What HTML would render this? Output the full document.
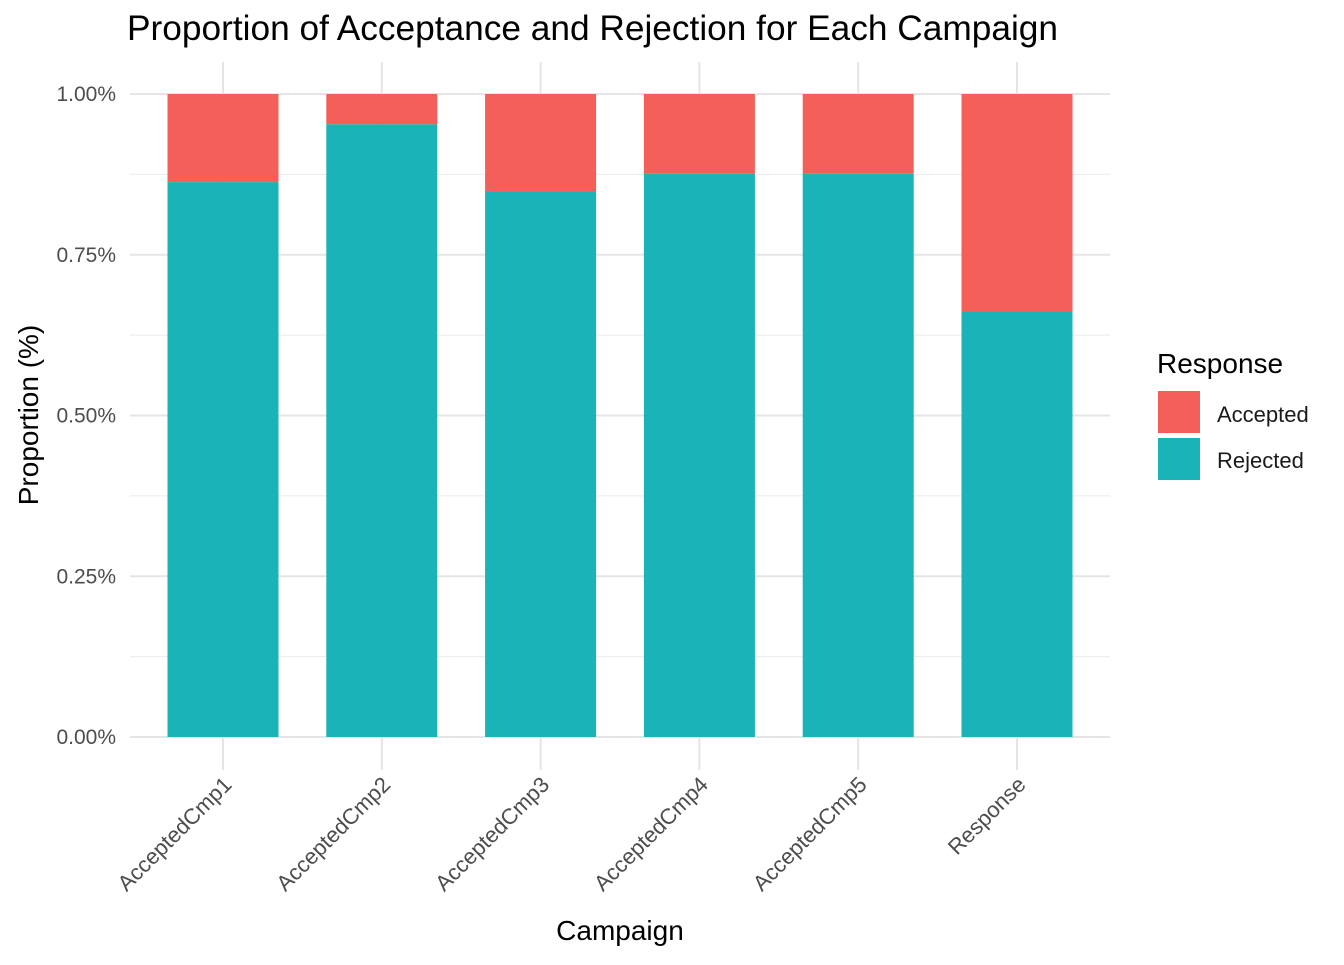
<!DOCTYPE html>
<html><head><meta charset="utf-8"><style>
body{margin:0;background:#fff;}
svg text{font-family:"Liberation Sans",Arial,sans-serif;}
</style></head><body>
<svg id="chart" width="1344" height="960" xmlns="http://www.w3.org/2000/svg">
<rect width="1344" height="960" fill="#fff"/>
<text x="127" y="40" font-size="35" fill="#000" textLength="931" lengthAdjust="spacingAndGlyphs">Proportion of Acceptance and Rejection for Each Campaign</text>
<g id="grid"></g>
<g id="bars"></g>
<g id="xlabels"></g>
<g id="ylabels"></g>
<text x="620" y="940" font-size="28" text-anchor="middle" fill="#000">Campaign</text>
<text transform="translate(38,415) rotate(-90)" font-size="28" text-anchor="middle" fill="#000">Proportion (%)</text>
<g>
<text x="1157" y="373" font-size="28" fill="#000">Response</text>
<rect x="1158" y="391" width="42" height="42" fill="#F45F5A"/>
<text x="1217" y="422" font-size="22" fill="#1a1a1a">Accepted</text>
<rect x="1158" y="438" width="42" height="42" fill="#19B3B8"/>
<text x="1217" y="468" font-size="22" fill="#1a1a1a">Rejected</text>
</g>
</svg>
<script>
const categories=["AcceptedCmp1","AcceptedCmp2","AcceptedCmp3","AcceptedCmp4","AcceptedCmp5","Response"];
const rejected=[0.863,0.953,0.849,0.876,0.876,0.661];
const accepted=[0.137,0.047,0.151,0.124,0.124,0.339];
const yTicks=[0,0.25,0.5,0.75,1];
const yTickLabels=["0.00%","0.25%","0.50%","0.75%","1.00%"];
const NS="http://www.w3.org/2000/svg";
const y=v=>737-v*643;
const x=i=>223+i*158.8;
const bw=111;
function mk(t,a,p){const e=document.createElementNS(NS,t);for(const k in a)e.setAttribute(k,a[k]);p.appendChild(e);return e;}
const grid=document.getElementById('grid'),bars=document.getElementById('bars'),xl=document.getElementById('xlabels'),yl=document.getElementById('ylabels');
for(let k=0;k<yTicks.length-1;k++){const v=(yTicks[k]+yTicks[k+1])/2;
 const l=mk('line',{x1:130,x2:1110,y1:y(v),y2:y(v),stroke:'#ebebeb','stroke-width':1},grid);
 
 }
yTicks.forEach((v,k)=>{
 const l=mk('line',{x1:130,x2:1110,y1:y(v),y2:y(v),stroke:'#e5e5e5','stroke-width':2},grid);
 
 
 const t=mk('text',{x:116,y:y(v)+7,'font-size':21,'text-anchor':'end',fill:'#4d4d4d'},yl);
 t.textContent=yTickLabels[k];
 
 
});
categories.forEach((c,i)=>{
 const l=mk('line',{x1:x(i),x2:x(i),y1:62,y2:770,stroke:'#e5e5e5','stroke-width':2},grid);
 
 
 const r=mk('rect',{x:x(i)-bw/2,y:y(rejected[i]),width:bw,height:y(0)-y(rejected[i]),fill:'#19B3B8'},bars);
 
 
 const a=mk('rect',{x:x(i)-bw/2,y:y(rejected[i]+accepted[i]),width:bw,height:y(rejected[i])-y(rejected[i]+accepted[i]),fill:'#F45F5A'},bars);
 
 
 const t=mk('text',{transform:`translate(${x(i)+10},${786}) rotate(-45)`,'font-size':22,'text-anchor':'end',fill:'#4d4d4d'},xl);
 t.textContent=c;
 
 
});
</script>
</body></html>
